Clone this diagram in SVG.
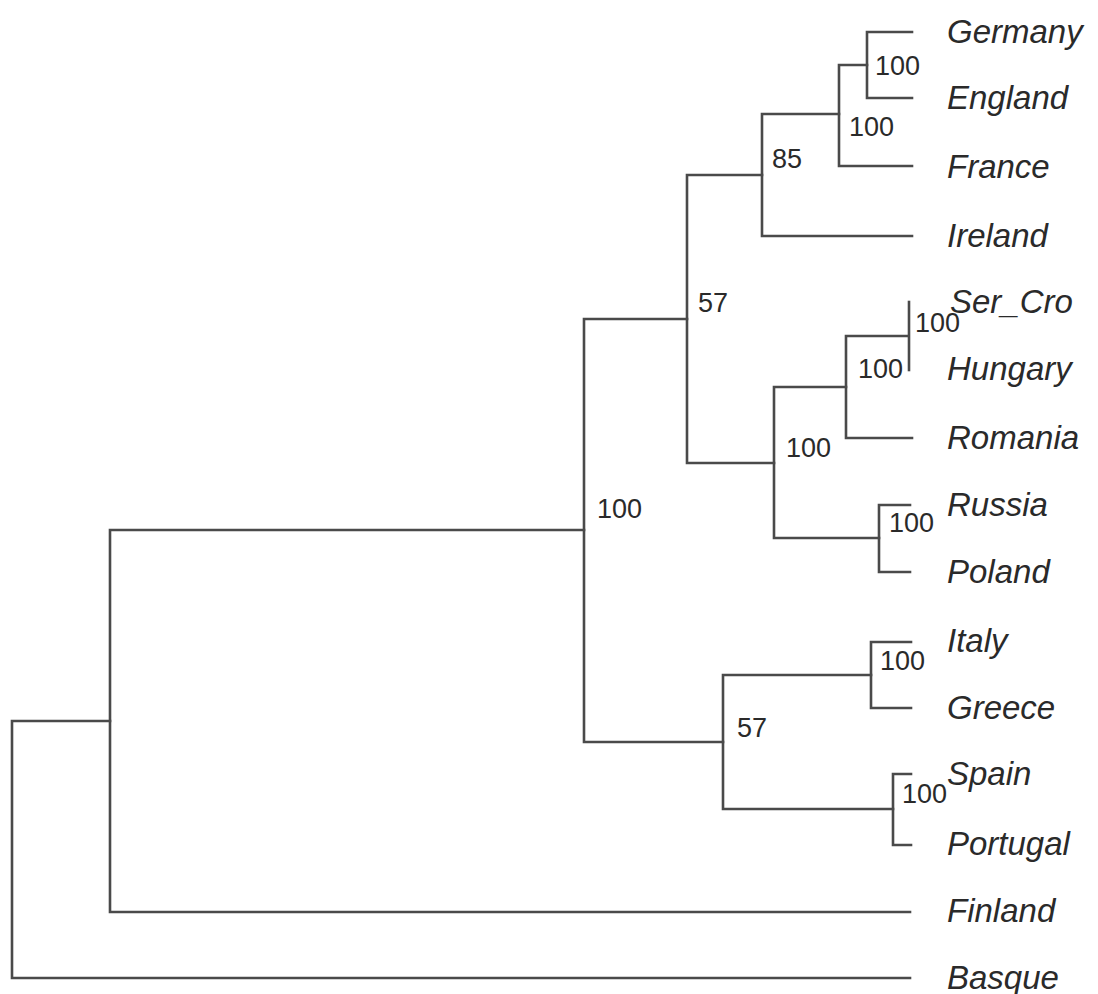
<svg xmlns="http://www.w3.org/2000/svg" width="1098" height="994" viewBox="0 0 1098 994">
<style>
.e{fill:none;stroke:#4a4a4a;stroke-width:2.6;stroke-linecap:square;stroke-linejoin:miter}
.lab{font-family:"Liberation Sans",Arial,sans-serif;font-style:italic;font-size:33px;fill:#2a2a2a}
.sup{font-family:"Liberation Sans",Arial,sans-serif;font-size:27px;fill:#2a2a2a}
</style>
<rect width="1098" height="994" fill="#fff"/>
<g id="connectors">
<path class="e" d="M912 32 H867 V98 H912"/>
<path class="e" d="M867 65 H839 V166 H912"/>
<path class="e" d="M839 114 H762 V236 H912"/>
<path class="e" d="M762 175 H687 V463 H774"/>
<path class="e" d="M909 302 V370"/>
<path class="e" d="M908 336 H846 V438 H912"/>
<path class="e" d="M846 387 H774 V538 H879"/>
<path class="e" d="M910 505 H879 V572 H910"/>
<path class="e" d="M687 319 H584 V742 H723"/>
<path class="e" d="M911 642 H871 V708 H911"/>
<path class="e" d="M871 675 H723 V809 H893"/>
<path class="e" d="M911 774 H893 V845 H911"/>
<path class="e" d="M584 530 H110 V912 H910"/>
<path class="e" d="M110 721 H12 V978 H910"/>
</g>
<g id="leaf-germany"><text class="lab" x="947" y="43">Germany</text></g>
<g id="leaf-england"><text class="lab" x="947" y="109">England</text></g>
<g id="leaf-france"><text class="lab" x="947" y="178">France</text></g>
<g id="leaf-ireland"><text class="lab" x="947" y="247">Ireland</text></g>
<g id="leaf-ser-cro"><text class="lab" x="950" y="313">Ser_Cro</text></g>
<g id="leaf-hungary"><text class="lab" x="947" y="380">Hungary</text></g>
<g id="leaf-romania"><text class="lab" x="947" y="449">Romania</text></g>
<g id="leaf-russia"><text class="lab" x="947" y="516">Russia</text></g>
<g id="leaf-poland"><text class="lab" x="947" y="583">Poland</text></g>
<g id="leaf-italy"><text class="lab" x="947" y="652">Italy</text></g>
<g id="leaf-greece"><text class="lab" x="947" y="719">Greece</text></g>
<g id="leaf-spain"><text class="lab" x="947" y="785">Spain</text></g>
<g id="leaf-portugal"><text class="lab" x="947" y="855">Portugal</text></g>
<g id="leaf-finland"><text class="lab" x="947" y="922">Finland</text></g>
<g id="leaf-basque"><text class="lab" x="947" y="989">Basque</text></g>
<g id="node-ger-eng"><text class="sup" x="875" y="75">100</text></g>
<g id="node-ger-eng-fra"><text class="sup" x="849" y="136">100</text></g>
<g id="node-west"><text class="sup" x="772" y="168">85</text></g>
<g id="node-north"><text class="sup" x="698" y="312">57</text></g>
<g id="node-ser-hun"><text class="sup" x="915" y="332">100</text></g>
<g id="node-ser-hun-rom"><text class="sup" x="858" y="378">100</text></g>
<g id="node-east"><text class="sup" x="786" y="457">100</text></g>
<g id="node-rus-pol"><text class="sup" x="889" y="532">100</text></g>
<g id="node-europe"><text class="sup" x="597" y="518">100</text></g>
<g id="node-ita-gre"><text class="sup" x="880" y="670">100</text></g>
<g id="node-south"><text class="sup" x="737" y="737">57</text></g>
<g id="node-spa-por"><text class="sup" x="902" y="803">100</text></g>
</svg>
